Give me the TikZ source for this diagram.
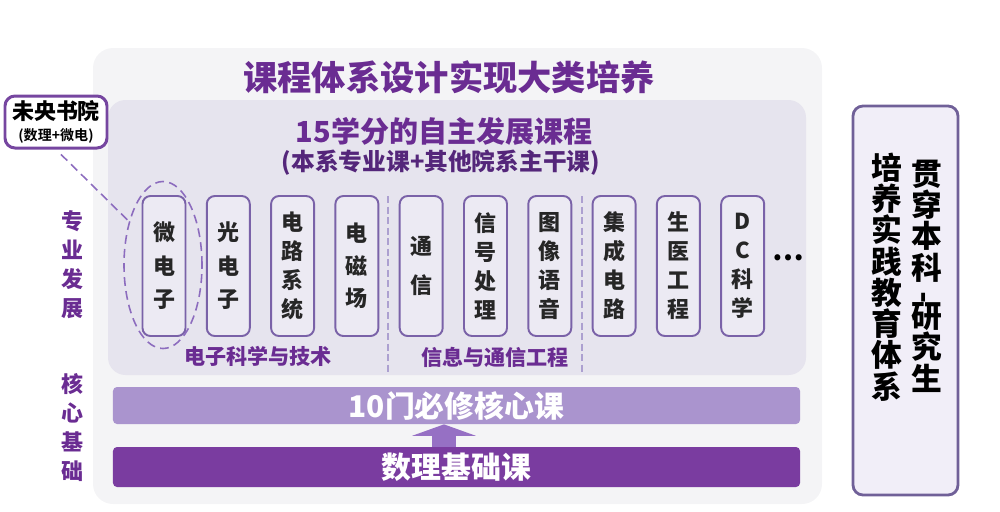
\documentclass[tikz,border=0pt]{standalone}
\usepackage{fontspec}
\setmainfont{Noto Sans CJK SC}
\newfontfamily\heavy{Noto Sans CJK SC Black}
\usetikzlibrary{shapes.geometric,arrows.meta}

\definecolor{titlepurple}{RGB}{106,44,146}
\definecolor{subpurple}{RGB}{84,38,122}
\definecolor{outerbg}{RGB}{244,244,246}
\definecolor{innerbg}{RGB}{230,228,238}
\definecolor{boxfill}{RGB}{236,234,243}
\definecolor{boxline}{RGB}{122,98,168}
\definecolor{sepline}{RGB}{172,160,208}
\definecolor{ringline}{RGB}{140,108,190}
\definecolor{corefill}{RGB}{170,148,206}
\definecolor{basefill}{RGB}{122,60,160}
\definecolor{arrowfill}{RGB}{150,112,196}
\definecolor{sidefill}{RGB}{241,238,248}
\definecolor{sideline}{RGB}{112,96,152}
\definecolor{wyline}{RGB}{118,70,160}

\tikzset{
  course/.style={draw=boxline, line width=1.1pt, fill=boxfill, rounded corners=1.6mm,
    minimum width=8.6mm, minimum height=28mm, inner sep=0pt, align=center, text=black!85},
  grouplabel/.style={font=\bfseries\fontsize{12}{12}\selectfont, text=titlepurple},
  sidelabel/.style={font=\bfseries\fontsize{12.5}{16.5}\selectfont, text=titlepurple, align=center},
  bar/.style={minimum width=137.4mm, rounded corners=0.8mm, inner sep=0pt, text=white,
    font=\heavy\fontsize{17}{17}\selectfont},
  sidetext/.style={font=\heavy\fontsize{17.5}{17.8}\selectfont, align=center, inner sep=0pt}
}

\begin{document}
\begin{tikzpicture}[x=0.2mm,y=-0.2mm]
    \useasboundingbox (0,0) rectangle (1000,511);

    \fill[outerbg, rounded corners=4mm] (93,48) rectangle (822,504);
    \fill[innerbg, rounded corners=3.5mm] (108,100) rectangle (806,375);

    \node[font=\heavy\fontsize{19.5}{20}\selectfont, text=titlepurple] (title) at (449,77) {课程体系设计实现大类培养};
    \node[font=\heavy\fontsize{16.5}{17}\selectfont, text=titlepurple] (zzfz) at (444,131) {15学分的自主发展课程};
    \node[font=\heavy\fontsize{13.5}{14}\selectfont, text=subpurple] (bxzy) at (441,163) {(本系专业课+其他院系主干课)};

    \foreach \i/\n/\t/\s in {0/wdz/{微\\电\\子}/19, 1/gdz/{光\\电\\子}/19, 2/dlxt/{电\\路\\系\\统}/16.5,
        3/dcc/{电\\磁\\场}/18.5, 4/tx/{通\\信}/22, 5/xhcl/{信\\号\\处\\理}/16.5, 6/txyy/{图\\像\\语\\音}/16.5,
        7/jcdl/{集\\成\\电\\路}/16.5, 8/sygc/{生\\医\\工\\程}/16.5, 9/dckx/{D\\C\\科\\学}/16.5}
        \node[course, font=\heavy\fontsize{12.5}{\s}\selectfont] (\n) at (164+64.3*\i,266) {\t};

    \node[font=\heavy\fontsize{16}{16}\selectfont] (more) at (788,258) {…};

    \draw[sepline, line width=1.2pt, dash pattern=on 4pt off 2pt] (388,196) -- (388,372);
    \draw[sepline, line width=1.2pt, dash pattern=on 4pt off 2pt] (582,196) -- (582,372);

    \node[grouplabel] (dzkx) at (258,356) {电子科学与技术};
    \node[grouplabel] (xxtx) at (495,357) {信息与通信工程};

    \node[ellipse, draw=ringline, line width=0.9pt, dash pattern=on 5pt off 3pt,
        minimum width=15.6mm, minimum height=33.4mm, inner sep=0pt] (ring) at (163,265) {};
    \node[draw=wyline, line width=1.7pt, rounded corners=2mm, fill=white, align=center,
        minimum width=20.4mm, minimum height=10.4mm, inner sep=0pt,
        font=\heavy\fontsize{12.5}{12}\selectfont] (wysy) at (56,122)
        {未央书院\\\bfseries\fontsize{8}{9}\selectfont (数理+微电)};
    \draw[ringline, line width=0.9pt, dash pattern=on 5pt off 3pt, shorten <=4pt] (wysy.south) -- (ring.128);

    \node[sidelabel] (zyfz) at (72,265) {专\\业\\发\\展};
    \node[sidelabel] (hxjc) at (72,428) {核\\心\\基\\础};

    \node[bar, fill=corefill, minimum height=7.4mm] (core) at (456.5,405.5) {10门必修核心课};
    \node[bar, fill=basefill, minimum height=8mm] (base) at (456.5,467) {数理基础课};
    \draw[arrowfill, line width=14pt, -{Triangle[width=36pt,length=6.5pt]}]
        (444,0 |- base.north) -- (444,0 |- core.south);

    \node[draw=sideline, line width=1.6pt, fill=sidefill, rounded corners=2mm,
        minimum width=21mm, minimum height=77.8mm] (sjtx) at (905.5,300.5) {};
    \node[sidetext] (bcyjs) at (927,276) {贯\\穿\\本\\科\\[-4pt]\rotatebox[origin=c]{90}{-}\\[-4pt]研\\究\\生};
    \node[sidetext] (pysj) at (887,277) {培\\养\\实\\践\\教\\育\\体\\系};
\end{tikzpicture}
\end{document}
